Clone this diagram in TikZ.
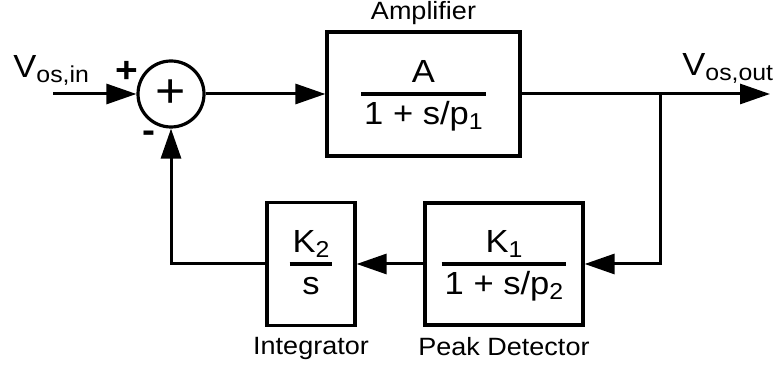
\documentclass[tikz,border=0pt]{standalone}
\usepackage{fontspec}
\setmainfont{Liberation Sans}[FakeStretch=1.08]
\usepackage{tikz}
\usetikzlibrary{arrows.meta,positioning,calc}

% lowered index, e.g. V_os,in
\newcommand{\lowsub}[1]{\raisebox{-2.5pt}{\fontsize{11.5}{12}\selectfont #1}}
% transfer function with a bar in the middle of the block
\newcommand{\blockfrac}[2]{{\renewcommand{\arraystretch}{0}%
  \begin{tabular}{@{\hspace{1.5pt}}c@{\hspace{1.5pt}}}
  \rule[-5pt]{0pt}{25pt}#1\\ \noalign{\hrule height 1.6pt}
  \rule[-10.5pt]{0pt}{25pt}#2
  \end{tabular}}}

\begin{document}
\begin{tikzpicture}[
  x=0.5pt, y=-0.5pt,
  >={Triangle[length=15pt,width=10pt]},
  block/.style={rectangle, draw=black, line width=1.6pt, inner sep=0pt, font=\fontsize{16}{18}\selectfont},
  sum/.style={circle, draw=black, line width=1.6pt, minimum size=33pt, inner sep=0pt},
  tag/.style={inner sep=0pt, font=\fontsize{12.5}{14}\selectfont},
  signal/.style={inner sep=0pt, font=\fontsize{16}{18}\selectfont},
  sign/.style={inner sep=0pt, font=\bfseries\fontsize{18}{18}\selectfont},
  wire/.style={->, line width=1.5pt, color=black}
]
\useasboundingbox (0,0) rectangle (782,367);

% Summing junction
\node[sum] (sum) at (171,94) {\fontsize{24}{24}\selectfont +};
\coordinate (vin) at (53,94);
\node[signal, anchor=base west] (vinlbl) at (13,78) {V\lowsub{os,in}};
\node[sign] (plus) at (127,72) {+};
\node[sign] (minus) at (149,137) {-};

% Amplifier
\node[block, minimum width=96.5pt, minimum height=62pt] (amp) at (423.5,94) {\blockfrac{A}{1 + s/p\lowsub{1}}};
\node[tag, above=2.5pt of amp] (amplbl) {Amplifier};

% Output
\coordinate (tap) at (660,94);
\coordinate (vout) at (770,94);
\node[signal, anchor=base west] (voutlbl) at (682,76) {V\lowsub{os,out}};

% Feedback path
\node[block, minimum width=79pt, minimum height=61pt] (peak) at (504,264) {\blockfrac{K\lowsub{1}}{1 + s/p\lowsub{2}}};
\node[block, minimum width=44pt, minimum height=61.5pt] (integ) at (311,264) {\blockfrac{K\lowsub{2}}{s}};
\node[tag, below=5pt of peak] (peaklbl) {Peak Detector};
\node[tag, below=5pt of integ] (integlbl) {Integrator};

\draw[wire] (vin) -- (sum.west);
\draw[wire] (sum.east) -- (amp.west);
\draw[wire] (amp.east) -- (vout);
\draw[wire] (tap) |- (peak.east);
\draw[wire] (peak.west) -- (integ.east);
\draw[wire] (integ.west) -| (sum.south);

\end{tikzpicture}
\end{document}
